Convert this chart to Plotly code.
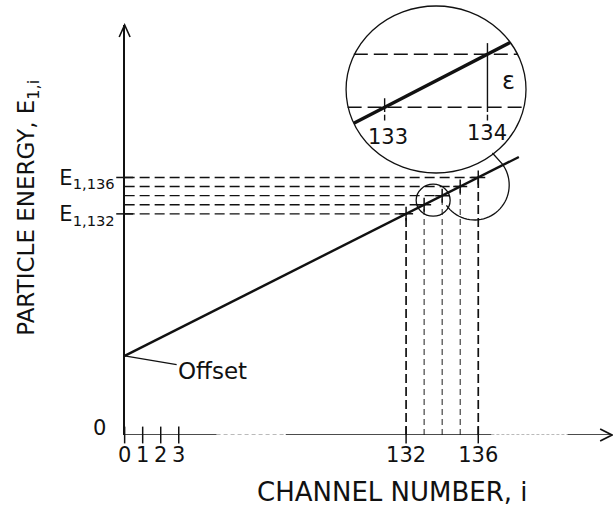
import numpy as np
import plotly.graph_objects as go

# ---- calibration data (energy in units of one channel width) ----
OFFSET = 8.7
CHANNELS = [132, 133, 134, 135, 136]
ENERGIES = [140.7, 141.7, 142.7, 143.7, 144.7]          # E_{1,i}
LINE_CHANNELS = [0, 138.25]
LINE_ENERGIES = [8.7, 146.95]

X_TICKS = [0, 1, 2, 3, 132, 136]
X_TICK_TEXT = ["0", "1", "2", "3", "132", "136"]
Y_TICK_ENERGIES = [140.7, 144.7]
Y_TICK_TEXT = ["E<sub>1,132</sub>", "E<sub>1,136</sub>"]

# magnified detail between channels 133 and 134
ZOOM_CENTER = (133.5, 142.2)
INSET_LINE_CHANNELS = [132.70, 134.22]
INSET_LINE_ENERGIES = [141.40, 142.92]
INSET_TICKS = [133, 134]
INSET_LEVELS = [141.7, 142.7]                      # E_{1,133}, E_{1,134}
INSET_LEVEL_SPANS = [[132.64, 134.36], [132.70, 134.29]]

# ---- page geometry ----
W, H = 613, 509
FONT = "DejaVu Sans"
INK = "#111111"

# broken axes: the stretch between the low channels and channel ~132 is cut out
AXIS_GAP = 116.4
BREAK_AT = 60.0


def shown(v):
    v = np.asarray(v, dtype=float)
    return np.where(v > BREAK_AT, v - AXIS_GAP, v)


def P(x, y):
    """pixel -> paper coordinates"""
    return x / W, 1 - y / H


X0_PX, X1_PX, Y0_PX, Y1_PX = 119, 612, 435, 25
PX_PER_CH, PX_PER_E = 18.25, 9.1

fig = go.Figure()

# main calibration line
fig.add_trace(go.Scatter(x=shown(LINE_CHANNELS), y=shown(LINE_ENERGIES), mode="lines",
                         line=dict(color=INK, width=2.4), hoverinfo="skip"))

# horizontal guides to the energy axis
hx, hy = [], []
for c, e in zip(CHANNELS, ENERGIES):
    hx += [0, float(shown(c)), None]
    hy += [float(shown(e)), float(shown(e)), None]
fig.add_trace(go.Scatter(x=hx, y=hy, mode="lines",
                         line=dict(color=INK, width=1.4, dash="10px,5px"), hoverinfo="skip"))

# vertical guides down to the channel axis
for group, width, dash, col in [([0, 4], 1.7, "9px,4px", INK), ([1, 2, 3], 1.1, "6px,4px", "#333333")]:
    vx, vy = [], []
    for k in group:
        vx += [float(shown(CHANNELS[k]))] * 2 + [None]
        vy += [0, float(shown(ENERGIES[k])), None]
    fig.add_trace(go.Scatter(x=vx, y=vy, mode="lines",
                             line=dict(color=col, width=width, dash=dash), hoverinfo="skip"))

# crosses where the guides meet the line
fig.add_trace(go.Scatter(x=shown(CHANNELS), y=shown(ENERGIES), mode="markers",
                         marker=dict(symbol="cross-thin", size=10, line=dict(color=INK, width=1.5)),
                         hoverinfo="skip"))

# tick crosses on both axes
fig.add_trace(go.Scatter(x=shown(X_TICKS), y=[0] * len(X_TICKS), mode="markers", cliponaxis=False,
                         marker=dict(symbol="line-ns", size=12, line=dict(color=INK, width=1.5)),
                         hoverinfo="skip"))
fig.add_trace(go.Scatter(x=[0] * len(Y_TICK_ENERGIES), y=shown(Y_TICK_ENERGIES), mode="markers",
                         cliponaxis=False,
                         marker=dict(symbol="line-ew", size=12, line=dict(color=INK, width=1.5)),
                         hoverinfo="skip"))

# ---- magnified inset ----
fig.add_trace(go.Scatter(x=INSET_LINE_CHANNELS, y=INSET_LINE_ENERGIES, xaxis="x2", yaxis="y2",
                         mode="lines", line=dict(color=INK, width=3.4), hoverinfo="skip"))
lx, ly = [], []
for e, span in zip(INSET_LEVELS, INSET_LEVEL_SPANS):
    lx += span + [None]
    ly += [e, e, None]
fig.add_trace(go.Scatter(x=lx, y=ly, xaxis="x2", yaxis="y2", mode="lines",
                         line=dict(color=INK, width=1.3, dash="14px,6px"), hoverinfo="skip"))
# epsilon bracket at channel 134 and tick at channel 133
e133, e134 = INSET_LEVELS
fig.add_trace(go.Scatter(
    x=[134, 134, None, 133, 133, None, 133, 133, None, 134, 134],
    y=[e134 + 0.21, e133 - 0.09, None, e133 + 0.17, e133 - 0.09, None,
       e133 - 0.14, e133 - 0.25, None, e133 - 0.14, e133 - 0.25],
    xaxis="x2", yaxis="y2", mode="lines", line=dict(color=INK, width=1.4), hoverinfo="skip"))

annotations = []
for c, e in zip(INSET_TICKS, INSET_LEVELS):
    annotations.append(dict(x=c, y=INSET_LEVELS[0], xref="x2", yref="y2", text=str(c),
                            showarrow=False, yshift=-30 if c == 133 else -26, xshift=3 if c == 133 else 0,
                            font=dict(family=FONT, size=21, color=INK)))
annotations.append(dict(x=134, y=(e133 + e134) / 2, xref="x2", yref="y2", text="ε",
                        showarrow=False, xshift=21, font=dict(family=FONT, size=24, color=INK)))

# labels on the main axes
annotations.append(dict(x=0, y=OFFSET, xref="x", yref="y", text="Offset", showarrow=True,
                        arrowhead=0, arrowwidth=1.3, arrowcolor=INK, ax=88, ay=15, standoff=0,
                        font=dict(family=FONT, size=23, color=INK)))
annotations.append(dict(x=0, y=0, xref="x", yref="y", text="0", showarrow=False,
                        xanchor="right", xshift=-17, yshift=7,
                        font=dict(family=FONT, size=21, color=INK)))
annotations.append(dict(x=P(21, 0)[0], y=P(0, 208)[1], xref="paper", yref="paper",
                        xanchor="center", yanchor="middle",
                        text="PARTICLE ENERGY, E<sub>1,i</sub>", textangle=-90, showarrow=False,
                        font=dict(family=FONT, size=23, color=INK)))
annotations.append(dict(x=P(390, 0)[0], y=P(0, 492)[1], xref="paper", yref="paper",
                        xanchor="center", yanchor="middle",
                        text="CHANNEL NUMBER, i", showarrow=False,
                        font=dict(family=FONT, size=26, color=INK)))

# ---- decorations: axis line pieces, arrowheads, magnifier outline ----
shapes = []


def xd(px):
    return (px - X0_PX) / (X1_PX - X0_PX)


for a, b, dash, col, w in [(119, 212, "solid", INK, 1.5), (212, 282, "4px,3px", "#777777", 1.1),
                           (282, 490, "solid", INK, 1.5), (490, 567, "3px,2px", "#777777", 1.1),
                           (567, 612, "solid", INK, 1.5)]:
    shapes.append(dict(type="line", xref="x domain", yref="y", x0=xd(a), x1=xd(b), y0=0, y1=0,
                       line=dict(color=col, width=w, dash=dash)))


def path(points):
    return "M " + " L ".join("%.5f,%.5f" % P(x, y) for x, y in points)


shapes.append(dict(type="path", xref="paper", yref="paper",
                   path=path([(113.5, 37), (119, 25), (124.5, 37)]), line=dict(color=INK, width=1.6)))
shapes.append(dict(type="path", xref="paper", yref="paper",
                   path=path([(600, 429), (612, 435), (600, 441)]), line=dict(color=INK, width=1.6)))

# circle around the magnified stretch of the line
shapes.append(dict(type="circle", xref="x", yref="y", xsizemode="pixel", ysizemode="pixel",
                   xanchor=float(shown(ZOOM_CENTER[0])), yanchor=float(shown(ZOOM_CENTER[1])),
                   x0=-17, x1=17, y0=-16, y1=16, line=dict(color=INK, width=1.3)))
# inset outline
shapes.append(dict(type="circle", xref="x2 domain", yref="y2 domain", x0=0, x1=1, y0=0, y1=1,
                   line=dict(color=INK, width=1.3)))
# connector between the small circle and the inset
th = np.radians(np.linspace(-36.5, 144.6, 40))
arc = [(491, 153)] + [(473 + 35 * np.cos(t), 185 + 35 * np.sin(t)) for t in th]
shapes.append(dict(type="path", xref="paper", yref="paper", path=path(arc),
                   line=dict(color=INK, width=1.3)))

tickfont = dict(family=FONT, size=21, color=INK)
fig.update_layout(
    width=W, height=H, margin=dict(l=0, r=0, t=0, b=0),
    paper_bgcolor="white", plot_bgcolor="rgba(0,0,0,0)", showlegend=False,
    xaxis=dict(domain=[X0_PX / W, X1_PX / W], range=[0, (X1_PX - X0_PX) / PX_PER_CH],
               tickvals=shown(X_TICKS), ticktext=X_TICK_TEXT, ticks="outside", ticklen=1,
               tickcolor="rgba(0,0,0,0)", tickfont=tickfont, showgrid=False, zeroline=False,
               showline=False, fixedrange=True),
    yaxis=dict(domain=[1 - Y0_PX / H, 1 - Y1_PX / H], range=[0, (Y0_PX - Y1_PX) / PX_PER_E],
               tickvals=shown(Y_TICK_ENERGIES), ticktext=Y_TICK_TEXT, ticks="outside", ticklen=4,
               tickcolor="rgba(0,0,0,0)", tickfont=tickfont, showgrid=False, zeroline=False,
               showline=True, linecolor=INK, linewidth=1.5, fixedrange=True),
    xaxis2=dict(domain=[343 / W, 525 / W], range=[132.625, 134.375], visible=False,
                anchor="y2", fixedrange=True),
    yaxis2=dict(domain=[1 - 173 / H, 1 - 6 / H], range=[140.46, 143.61], visible=False,
                anchor="x2", fixedrange=True),
    annotations=annotations, shapes=shapes,
)

fig.write_html("out.html")
